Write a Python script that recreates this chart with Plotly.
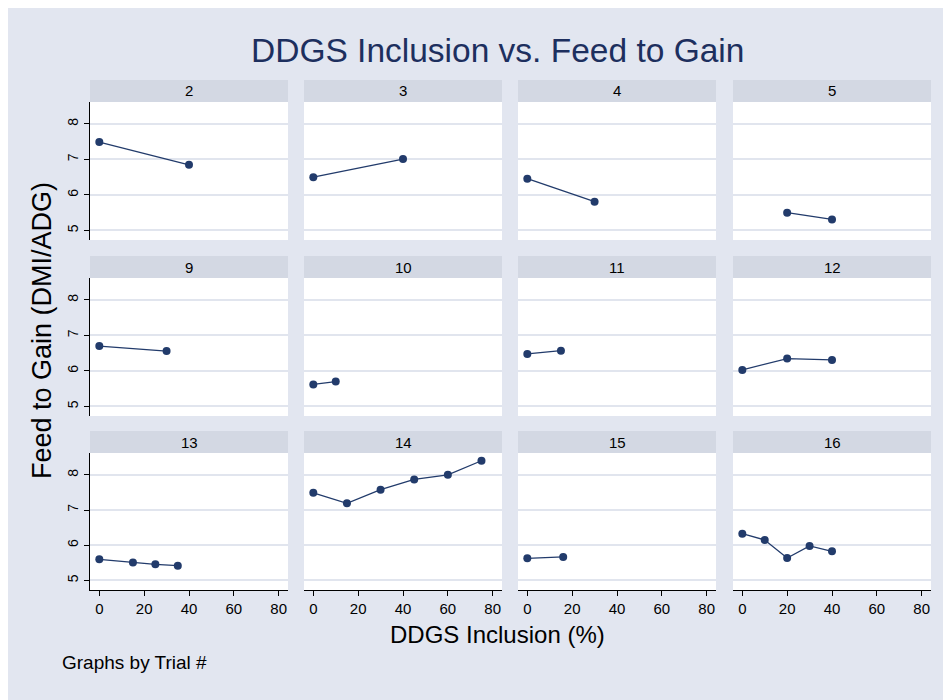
import plotly.graph_objects as go

# ---- data ----
trials = ["2", "3", "4", "5", "9", "10", "11", "12", "13", "14", "15", "16"]
inc_t2, fg_t2 = [0, 40], [7.49, 6.85]
inc_t3, fg_t3 = [0, 40], [6.50, 7.01]
inc_t4, fg_t4 = [0, 30], [6.46, 5.81]
inc_t5, fg_t5 = [20, 40], [5.50, 5.31]
inc_t9, fg_t9 = [0, 30], [6.70, 6.56]
inc_t10, fg_t10 = [0, 10], [5.62, 5.70]
inc_t11, fg_t11 = [0, 15], [6.48, 6.57]
inc_t12, fg_t12 = [0, 20, 40], [6.03, 6.35, 6.31]
inc_t13, fg_t13 = [0, 15, 25, 35], [5.60, 5.51, 5.46, 5.42]
inc_t14, fg_t14 = [0, 15, 30, 45, 60, 75], [7.49, 7.19, 7.58, 7.87, 8.00, 8.40]
inc_t15, fg_t15 = [0, 16], [5.63, 5.67]
inc_t16, fg_t16 = [0, 10, 20, 30, 40], [6.33, 6.15, 5.64, 5.98, 5.83]

panels = [
    (inc_t2, fg_t2), (inc_t3, fg_t3), (inc_t4, fg_t4), (inc_t5, fg_t5),
    (inc_t9, fg_t9), (inc_t10, fg_t10), (inc_t11, fg_t11), (inc_t12, fg_t12),
    (inc_t13, fg_t13), (inc_t14, fg_t14), (inc_t15, fg_t15), (inc_t16, fg_t16),
]
x_ticks = [0, 20, 40, 60, 80]
y_ticks = [5, 6, 7, 8]

title_text = "DDGS Inclusion vs. Feed to Gain"
x_title = "DDGS Inclusion (%)"
y_title = "Feed to Gain (DMI/ADG)"
note_text = "Graphs by Trial #"

# ---- layout geometry (page pixels; page has an 8px body margin) ----
W, H = 951, 700
OFF = 8
col_px = [(90, 288), (304, 502), (518, 716), (733, 931)]
row_plot_px = [(102, 240), (278, 416), (453, 590)]
row_strip_px = [(80, 102), (256, 278), (431, 453)]

BG = "#e2e6f0"
STRIP = "#d3d8e3"
GRID = "#e1e5ee"
NAVY = "#223b6b"
FONT = "Liberation Sans, Arial, sans-serif"

def fx(p):
    return (p - OFF) / W

def fy(p):
    return 1 - (p - OFF) / H

fig = go.Figure()
layout = dict(
    width=W, height=H, autosize=False,
    margin=dict(l=0, r=0, t=0, b=0),
    paper_bgcolor=BG, plot_bgcolor="white",
    showlegend=False,
    font=dict(family=FONT, color="black"),
)
shapes = []
annotations = []

for i, (xs, ys) in enumerate(panels):
    r, c = divmod(i, 4)
    n = i + 1
    xa = "x" if n == 1 else f"x{n}"
    ya = "y" if n == 1 else f"y{n}"
    fig.add_trace(go.Scatter(
        x=xs, y=ys, mode="lines+markers",
        line=dict(color=NAVY, width=1.3),
        marker=dict(color=NAVY, size=8),
        xaxis=xa, yaxis=ya, hoverinfo="skip",
    ))
    x0, x1 = col_px[c]
    y0, y1 = row_plot_px[r]
    bottom = r == 2
    left = c == 0
    layout["xaxis" if n == 1 else f"xaxis{n}"] = dict(
        domain=[fx(x0), fx(x1)], anchor=ya,
        range=[-4.15, 84.15], tickvals=x_ticks, showgrid=False, zeroline=False,
        showticklabels=bottom, showline=bottom, linecolor="black", linewidth=1,
        ticks="outside" if bottom else "", ticklen=5, tickcolor="black",
        tickfont=dict(size=15, family=FONT, color="black"), fixedrange=True,
    )
    layout["yaxis" if n == 1 else f"yaxis{n}"] = dict(
        domain=[fy(y1), fy(y0)], anchor=xa,
        range=[4.73, 8.62], tickvals=y_ticks, showgrid=True, gridcolor=GRID,
        gridwidth=1.5, zeroline=False,
        showticklabels=left, showline=left, linecolor="black", linewidth=1,
        ticks="outside" if left else "", ticklen=5, tickcolor="black",
        tickangle=-90, tickfont=dict(size=14, family=FONT, color="black"),
        fixedrange=True,
    )
    s0, s1 = row_strip_px[r]
    shapes.append(dict(
        type="rect", xref="paper", yref="paper",
        x0=fx(x0), x1=fx(x1), y0=fy(s1), y1=fy(s0),
        fillcolor=STRIP, line=dict(width=0), layer="below",
    ))
    annotations.append(dict(
        x=fx((x0 + x1) / 2), y=fy((s0 + s1) / 2), xref="paper", yref="paper",
        text=trials[i], showarrow=False, xanchor="center", yanchor="middle",
        font=dict(size=15, family=FONT, color="black"),
    ))

annotations += [
    dict(x=fx(497), y=fy(50), xref="paper", yref="paper", text=title_text,
         showarrow=False, xanchor="center", yanchor="middle",
         font=dict(size=33.5, family=FONT, color="#1d2f5e")),
    dict(x=fx(497), y=fy(634), xref="paper", yref="paper", text=x_title,
         showarrow=False, xanchor="center", yanchor="middle",
         font=dict(size=24, family=FONT, color="black")),
    dict(x=fx(42), y=fy(331), xref="paper", yref="paper", text=y_title,
         showarrow=False, xanchor="center", yanchor="middle", textangle=-90,
         font=dict(size=27, family=FONT, color="black")),
    dict(x=fx(60), y=fy(662), xref="paper", yref="paper", text=note_text,
         showarrow=False, xanchor="left", yanchor="middle",
         font=dict(size=19, family=FONT, color="black")),
]
layout["shapes"] = shapes
layout["annotations"] = annotations
fig.update_layout(**layout)
fig.write_html("out.html", config={"displayModeBar": False})
